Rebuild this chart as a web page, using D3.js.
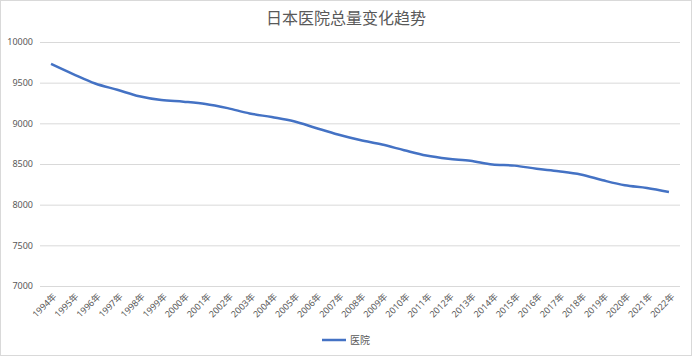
<!DOCTYPE html>
<html>
<head>
<meta charset="utf-8">
<title>日本医院总量变化趋势</title>
<script src="https://cdn.jsdelivr.net/npm/d3@7"></script>
<style>
  body { margin: 0; background: #fff; }
  .axis text { font-family: "Noto Sans", "Noto Sans CJK SC", sans-serif; font-size: 9px; fill: #595959; }
  .grid line { stroke: #d9d9d9; stroke-width: 1; }
  path.hospital { fill: none; stroke: #4472c4; stroke-width: 2.5px; }
</style>
</head>
<body>
<script>
  const years = ["1994年","1995年","1996年","1997年","1998年","1999年","2000年","2001年","2002年","2003年",
    "2004年","2005年","2006年","2007年","2008年","2009年","2010年","2011年","2012年","2013年",
    "2014年","2015年","2016年","2017年","2018年","2019年","2020年","2021年","2022年"];
  const hospitals = [9731, 9606, 9490, 9413, 9333, 9286, 9266, 9239, 9187, 9122,
    9077, 9026, 8943, 8862, 8794, 8739, 8670, 8605, 8565, 8540,
    8493, 8480, 8442, 8412, 8372, 8300, 8238, 8205, 8156];
  const yTicks = [7000, 7500, 8000, 8500, 9000, 9500, 10000];
  const seriesName = "医院";
  const title = "日本医院总量变化趋势";

  let width = 692;
  let height = 357;
  let plotLeft = 40, plotRight = 680, plotTop = 42, plotBottom = 286;

  let svg = d3.select("body").append("svg")
    .attr("width", width)
    .attr("height", height);

  // outer border
  svg.append("rect")
    .attr("x", 0.5).attr("y", 0.5)
    .attr("width", width - 1).attr("height", height - 2)
    .attr("fill", "#fff")
    .attr("stroke", "#d9d9d9");

  svg.append("text")
    .attr("x", width / 2).attr("y", 24)
    .attr("text-anchor", "middle")
    .style("font-family", "'Noto Sans CJK SC', sans-serif")
    .style("font-size", "16px")
    .style("fill", "#595959")
    .text(title);

  let x = d3.scaleBand().domain(years).range([plotLeft, plotRight]);
  let y = d3.scaleLinear().domain([7000, 10000]).range([plotBottom, plotTop]);

  // horizontal grid + y labels
  let yAxis = svg.append("g")
    .attr("class", "axis grid")
    .attr("transform", "translate(" + plotLeft + ",0)")
    .call(d3.axisLeft(y).tickValues(yTicks).tickFormat(d3.format("d"))
      .tickSize(-(plotRight - plotLeft)).tickPadding(6));
  yAxis.select(".domain").remove();
  yAxis.selectAll("text").attr("x", -7);

  // x labels, rotated
  let xAxis = svg.append("g")
    .attr("class", "axis")
    .attr("transform", "translate(0," + plotBottom + ")")
    .call(d3.axisBottom(x).tickSize(0));
  xAxis.select(".domain").remove();
  xAxis.selectAll("text")
    .attr("text-anchor", "end")
    .attr("dy", null)
    .attr("transform", "translate(4,9) rotate(-45)");

  let line = d3.line()
    .x((d, i) => x(years[i]) + x.bandwidth() / 2)
    .y(d => y(d))
    .curve(d3.curveMonotoneX);

  svg.append("path")
    .attr("class", "hospital")
    .attr("d", line(hospitals));

  // legend
  let legend = svg.append("g").attr("transform", "translate(322,340)");
  legend.append("line")
    .attr("x1", 0).attr("x2", 24)
    .attr("stroke", "#4472c4").attr("stroke-width", 2.5);
  legend.append("text")
    .attr("x", 28).attr("y", 4)
    .style("font-family", "'Noto Sans CJK SC', sans-serif")
    .style("font-size", "10px")
    .style("fill", "#595959")
    .text(seriesName);
</script>
</body>
</html>
